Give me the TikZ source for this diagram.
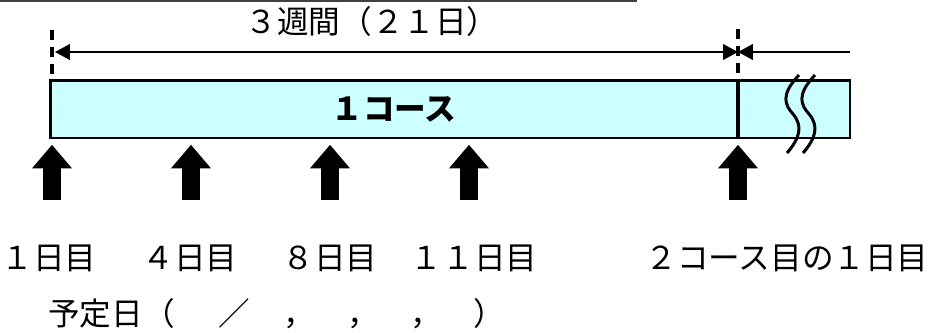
\documentclass[tikz,border=0pt]{standalone}
\usepackage{fontspec}
\setmainfont{Noto Sans CJK JP}
\usepackage{tikz}
\usetikzlibrary{arrows.meta}
\tikzset{>={Triangle[length=8.5pt, width=9pt]}}
\definecolor{coursefill}{HTML}{CCFFFF}
\definecolor{rulegray}{HTML}{404040}

\begin{document}
\begin{tikzpicture}[x=0.02cm, y=-0.02cm,
		every node/.style={font=\fontsize{18}{21}\selectfont, inner sep=0pt},
		course/.style={rectangle, draw=black, fill=coursefill, line width=1.7pt, minimum height=1.16cm},
		dimline/.style={line width=0.6pt},
		guide/.style={line width=2pt, dash pattern=on 5.7pt off 4pt},
		dose/.style={line width=10.2pt, -{Triangle[length=13.5pt, width=22pt]}},
		wave/.style={line width=1.7pt}]
		\useasboundingbox (0,0) rectangle (932,332);
		\node[course, minimum width=13.76cm, font=\fontsize{18}{21}\selectfont\bfseries] (1) at (394,109) {１コース};
		\node[course, minimum width=2.24cm] (2) at (794,109) {};
		\node (3) at (372,21) {３週間（２１日）};
		\node (11) at (49,258) {１日目};
		\node (12) at (190,258) {４日目};
		\node (13) at (330,258) {８日目};
		\node (14) at (474,258) {１１日目};
		\node (15) at (787,258) {２コース目の１日目};
		\node[anchor=west] (16) at (48,314) {予定日（\hspace{1.37em}／\hspace{1.08em}，　，　，　）};
		\coordinate (r0) at (0,1);
		\coordinate (r1) at (637,1);
		\coordinate (v1) at (52,30);
		\coordinate (v2) at (52,74);
		\coordinate (v3) at (738,29);
		\coordinate (v4) at (738,74);
		\coordinate (d1) at (55,52);
		\coordinate (d2) at (738,52);
		\coordinate (d3) at (850,52);
		\coordinate (a1) at (52,200);
		\coordinate (a2) at (191,200);
		\coordinate (a3) at (330,200);
		\coordinate (a4) at (469,200);
		\coordinate (a5) at (738,200);

		\draw[rulegray, line width=0.6pt] (r0) -- (r1);
		\draw[guide] (v1) -- (v2);
		\draw[guide] (v3) -- (v4);
		\path (d1) edge[dimline, <->] (d2);
		\path (d3) edge[dimline, ->] (d2);

		% break marks
		\draw[wave] (799,75) .. controls (780,95) and (785,105) .. (793,114) .. controls (803,126) and (800,138) .. (787,153);
		\draw[wave] (815,75) .. controls (796,95) and (801,105) .. (809,114) .. controls (819,126) and (816,138) .. (803,153);

		\path (a1) edge[dose] ([yshift=-3pt]a1 |- 1.south);
		\path (a2) edge[dose] ([yshift=-3pt]a2 |- 1.south);
		\path (a3) edge[dose] ([yshift=-3pt]a3 |- 1.south);
		\path (a4) edge[dose] ([yshift=-3pt]a4 |- 1.south);
		\path (a5) edge[dose] ([yshift=-3pt]a5 |- 1.south);
\end{tikzpicture}
\end{document}
